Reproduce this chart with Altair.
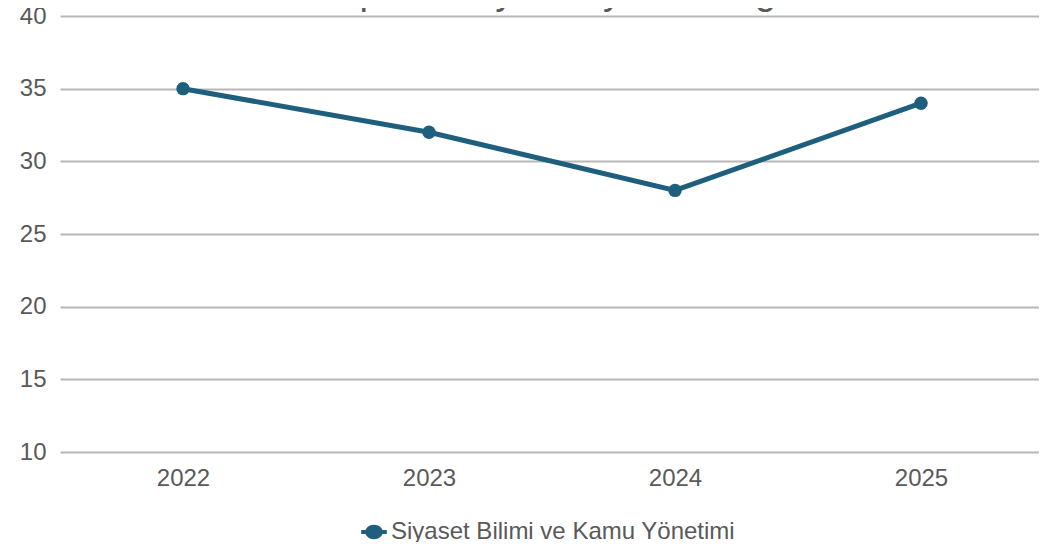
import altair as alt
import pandas as pd

years = ["2022", "2023", "2024", "2025"]
values = [35, 32, 28, 34]
series_name = "Siyaset Bilimi ve Kamu Yönetimi"
title_text = "Toplam Yayın Sayısı Grafiği"

df = pd.DataFrame({"year": years, "value": values, "series": [series_name] * len(years)})

FONT = "Liberation Sans"
GRAY = "#595959"
LINE = "#1f5f7e"

sym = ("M -1.6 -0.25 L 1.6 -0.25 L 1.6 0.25 L -1.6 0.25 Z "
       "M -1.1 0 A 1.1 0.9 0 1 1 1.1 0 A 1.1 0.9 0 1 1 -1.1 0 Z")

base = alt.Chart(df).encode(
    x=alt.X("year:O", title=None,
            scale=alt.Scale(type="point", padding=0.4898, align=0.5104),
            axis=alt.Axis(labelAngle=0, ticks=False, domain=False, grid=False,
                          labelFont=FONT, labelFontSize=24, labelColor=GRAY,
                          labelPadding=14)),
    y=alt.Y("value:Q", title=None,
            scale=alt.Scale(domain=[10, 40], nice=False, zero=False),
            axis=alt.Axis(values=[10, 15, 20, 25, 30, 35, 40], ticks=False, domain=False,
                          gridColor="#b7b7b7", gridWidth=2,
                          labelFont=FONT, labelFontSize=24, labelColor=GRAY,
                          labelPadding=14)),
    color=alt.Color("series:N", title=None,
                    scale=alt.Scale(range=[LINE]),
                    legend=alt.Legend(orient="none", legendX=302, legendY=504,
                                      direction="horizontal", padding=0,
                                      symbolType=sym, symbolSize=256,
                                      symbolStrokeWidth=0, symbolFillColor=LINE,
                                      labelFont=FONT, labelFontSize=24, labelColor=GRAY,
                                      labelOffset=5, labelLimit=600)),
)

line = base.mark_line(strokeWidth=5)
pts = base.mark_point(filled=True, size=180, opacity=1)

title = alt.Chart(pd.DataFrame({"t": [title_text]})).mark_text(
    font=FONT, fontSize=38, color=GRAY, baseline="alphabetic", align="center"
).encode(text="t:N", x=alt.value(492), y=alt.value(-12))

chart = alt.layer(line, pts, title).properties(
    width=979, height=436,
    padding={"left": 52, "top": 8, "right": 0, "bottom": 90},
    autosize=alt.AutoSizeParams(type="none"),
).configure_view(stroke=None)

chart.save("out.html", embed_options={"renderer": "svg", "actions": False})
